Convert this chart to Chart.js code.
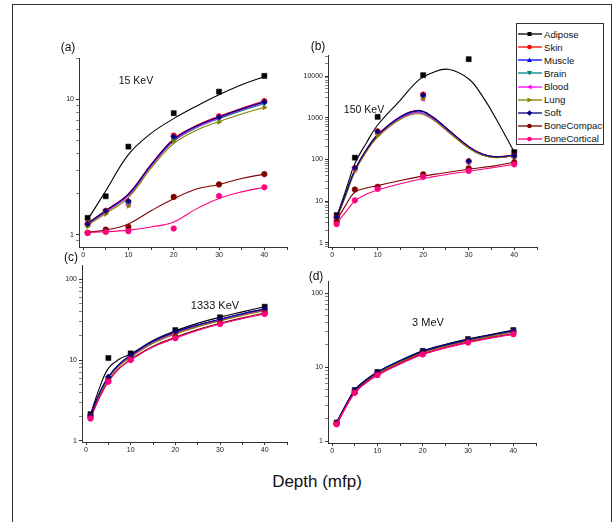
<!DOCTYPE html>
<html lang="en">
<head>
<meta charset="UTF-8">
<title>Depth (mfp) - four energies</title>
<script src="https://cdn.jsdelivr.net/npm/chart.js"></script>
<style>
  body { margin:0; width:612px; height:522px; overflow:hidden; background:#fff; position:relative;
         font-family:"Liberation Sans", Arial, sans-serif; }
  .frame { position:absolute; left:12px; top:4px; width:598px; height:540px; border:1.3px solid #333; }
  canvas { position:absolute; }
  .lbl { position:absolute; transform:translate(-50%,-50%); white-space:nowrap; color:#111; }
  .legend { position:absolute; left:516px; top:23px; width:86px; height:120px; border:1px solid #333;
            background:#fff; overflow:hidden; z-index:5; }
  .row { position:absolute; left:1px; height:13px; display:flex; align-items:center; font-size:9.6px; color:#111; white-space:nowrap; }
  .row svg { margin-right:2px; }
</style>
</head>
<body>
<div class="frame"></div>

<canvas id="chartA" width="260" height="211" style="left:39px;top:50px"></canvas>
<canvas id="chartB" width="261" height="214" style="left:288px;top:47px"></canvas>
<canvas id="chartC" width="257" height="199" style="left:42px;top:257px"></canvas>
<canvas id="chartD" width="260" height="184" style="left:288px;top:273px"></canvas>

<div class="lbl" style="left:68px;top:47px;font-size:12px">(a)</div>
<div class="lbl" style="left:318px;top:46px;font-size:12px">(b)</div>
<div class="lbl" style="left:71px;top:257px;font-size:12px">(c)</div>
<div class="lbl" style="left:316px;top:276px;font-size:12px">(d)</div>

<div class="lbl" style="left:136px;top:80px;font-size:10.5px">15 KeV</div>
<div class="lbl" style="left:364px;top:109px;font-size:10.5px">150 KeV</div>
<div class="lbl" style="left:215px;top:305px;font-size:11px">1333 KeV</div>
<div class="lbl" style="left:428px;top:322px;font-size:11px">3 MeV</div>

<div class="lbl" style="left:317px;top:482px;font-size:17px">Depth (mfp)</div>

<div class="legend" id="legend"></div>

<script>
const tissues = ['Adipose', 'Skin', 'Muscle', 'Brain', 'Blood', 'Lung', 'Soft', 'BoneCompact', 'BoneCortical'];
const depth = [1, 5, 10, 20, 30, 40];
const xTicks = [0, 5, 10, 15, 20, 25, 30, 35, 40, 45];

// (a) 15 KeV
const ptsA = [
  [1.33, 1.92, 4.47, 7.9, 11.4, 14.9],
  [1.2, 1.5, 1.75, 5.4, 7.5, 9.7],
  [1.18, 1.47, 1.72, 5.2, 7.4, 9.5],
  [1.17, 1.45, 1.7, 5.0, 7.2, 9.3],
  [1.18, 1.47, 1.65, 5.3, 7.4, 9.6],
  [1.15, 1.42, 1.63, 4.9, 6.8, 8.7],
  [1.2, 1.5, 1.77, 5.3, 7.4, 9.6],
  [1.03, 1.09, 1.14, 1.9, 2.35, 2.8],
  [1.03, 1.045, 1.06, 1.11, 1.93, 2.24]
];
const fitXA = [1, 5, 10, 15, 20, 25, 30, 35, 40];
const fitA = [
  [1.29, 2.1, 3.9, 5.6, 7.2, 8.9, 10.8, 12.8, 14.7],
  [1.22, 1.51, 2.0, 3.3, 5.1, 6.4, 7.5, 8.6, 9.75],
  [1.2, 1.49, 1.97, 3.25, 5.0, 6.3, 7.35, 8.45, 9.55],
  [1.19, 1.47, 1.94, 3.2, 4.9, 6.15, 7.2, 8.25, 9.3],
  [1.2, 1.48, 1.95, 3.22, 4.95, 6.25, 7.3, 8.4, 9.5],
  [1.17, 1.43, 1.88, 3.1, 4.7, 5.9, 6.85, 7.8, 8.7],
  [1.21, 1.5, 1.99, 3.28, 5.05, 6.35, 7.4, 8.5, 9.6],
  [1.04, 1.08, 1.2, 1.5, 1.84, 2.17, 2.35, 2.6, 2.8],
  [1.04, 1.05, 1.08, 1.14, 1.24, 1.55, 1.85, 2.07, 2.24]
];

// (b) 150 KeV
const ptsB = [
  [4.6, 110, 1050, 10500, 25400, 150],
  [4.0, 62, 470, 3600, 90, 120],
  [3.9, 60, 450, 3400, 88, 118],
  [3.8, 58, 420, 3000, 86, 115],
  [3.7, 55, 400, 2800, 85, 112],
  [3.6, 55, 380, 2900, 85, 112],
  [4.1, 63, 470, 3500, 92, 122],
  [3.2, 19, 22, 44, 61, 85],
  [2.8, 10.4, 19.5, 38, 53, 76]
];
const fitXB = [1, 3, 5, 7.5, 10, 15, 19, 22, 25.5, 30, 33, 36, 40];
const fitB = [
  [4.2, 18, 80, 245, 670, 2660, 8000, 12000, 14500, 8500, 3300, 950, 150],
  [4.0, 15, 56, 170, 390, 1060, 1500, 1070, 520, 205, 135, 116, 127],
  [3.95, 14.5, 55, 165, 380, 1030, 1450, 1040, 505, 200, 132, 114, 125],
  [3.9, 14, 53, 160, 365, 980, 1350, 980, 480, 192, 128, 112, 123],
  [3.85, 14, 52, 158, 360, 960, 1320, 960, 470, 190, 127, 111, 122],
  [3.8, 13.5, 50, 150, 345, 920, 1250, 920, 455, 185, 125, 110, 121],
  [4.0, 15, 56, 168, 385, 1050, 1480, 1060, 515, 203, 134, 115, 126],
  [3.4, 8, 16.5, 20.5, 23.5, 31, 38, 43, 49, 58, 64, 71, 85],
  [2.9, 5.5, 10, 14.5, 18.5, 26, 33, 38, 44, 52, 58, 65, 76]
];

// (c) 1333 KeV
const ptsC = [
  [2.14, 10.6, 12.1, 23.5, 33.8, 45.7],
  [2.05, 6.0, 11.0, 21.5, 31, 41.5],
  [2.08, 6.2, 11.4, 22.2, 32, 42.8],
  [2.05, 6.0, 11.1, 21.6, 31.2, 41.8],
  [2.04, 6.0, 11.0, 21.4, 31, 41.3],
  [2.02, 5.9, 10.8, 21.0, 30.5, 40.7],
  [2.08, 6.2, 11.5, 22.4, 32, 42.9],
  [1.93, 5.5, 10.2, 19.2, 28.5, 38.2],
  [1.89, 5.4, 10.0, 18.6, 27.9, 37.2]
];
const fitXC = [1, 3, 5, 7.5, 10, 15, 20, 25, 30, 35, 40];
const fitC = [
  [2.12, 4.5, 7.9, 10.3, 11.9, 17.5, 23, 28.5, 34, 39.5, 45.7],
  [2.05, 3.8, 6.0, 8.7, 11.0, 16.5, 21.5, 26.3, 31, 36.3, 41.5],
  [2.08, 3.9, 6.2, 8.95, 11.4, 17.0, 22.2, 27.1, 32, 37.4, 42.8],
  [2.05, 3.8, 6.0, 8.75, 11.1, 16.6, 21.6, 26.4, 31.2, 36.5, 41.8],
  [2.04, 3.8, 6.0, 8.7, 11.0, 16.4, 21.4, 26.2, 31, 36.1, 41.3],
  [2.02, 3.75, 5.9, 8.55, 10.8, 16.1, 21.0, 25.8, 30.5, 35.6, 40.7],
  [2.08, 3.9, 6.2, 9.0, 11.5, 17.2, 22.4, 27.3, 32, 37.5, 42.9],
  [1.93, 3.45, 5.5, 8.0, 10.2, 14.8, 19.2, 23.8, 28.5, 33.3, 38.2],
  [1.89, 3.4, 5.4, 7.9, 10.0, 14.5, 18.6, 23.2, 27.9, 32.5, 37.2]
];

// (d) 3 MeV  (lines go through the points)
const ptsD = [
  [1.78, 4.9, 8.6, 16.6, 24.0, 31.8],
  [1.74, 4.7, 8.3, 16.0, 23.0, 30.5],
  [1.76, 4.8, 8.5, 16.3, 23.5, 31.0],
  [1.75, 4.75, 8.4, 16.1, 23.2, 30.7],
  [1.74, 4.7, 8.3, 15.9, 23.0, 30.4],
  [1.73, 4.7, 8.2, 15.8, 22.8, 30.1],
  [1.77, 4.85, 8.55, 16.4, 23.7, 31.2],
  [1.70, 4.55, 7.9, 15.1, 21.9, 28.5],
  [1.69, 4.5, 7.8, 14.9, 21.6, 28.0]
];

// styles
const colors = ['#000000', '#ff0000', '#0000ff', '#008080', '#ff00ff', '#808000', '#000080', '#800000', '#ff0080'];
const pStyles = ['rect', 'circle', 'triangle', 'triangle', 'triangle', 'triangle', 'rectRot', 'circle', 'circle'];
const pRot = [0, 0, 0, 180, -90, 90, 0, 0, 0];

function logTicks(scale) {
  const out = [];
  const k0 = Math.floor(Math.log10(scale.min)), k1 = Math.ceil(Math.log10(scale.max));
  for (let k = k0; k <= k1; k++) {
    for (let m = 1; m <= 9; m++) {
      const v = m * Math.pow(10, k);
      if (v >= scale.min && v <= scale.max) out.push({ value: v, major: m === 1 });
    }
  }
  scale.ticks = out;
}

function decadeLabel(v) {
  const l = Math.log10(v);
  return Math.abs(l - Math.round(l)) < 1e-6 ? String(Math.round(v)) : '';
}

function makeChart(id, pts, fitX, fitY, yMin, yMax) {
  const datasets = [];
  tissues.forEach((name, i) => {
    if (fitY) {
      datasets.push({
        label: name + ' fit',
        data: fitX.map((x, j) => ({ x: x, y: fitY[i][j] })),
        showLine: true, pointRadius: 0, borderColor: colors[i], borderWidth: 1.1,
        tension: 0.4, order: 50 - i
      });
    }
    datasets.push({
      label: name,
      data: depth.map((x, j) => ({ x: x, y: pts[i][j] })),
      showLine: !fitY, tension: 0.25, borderWidth: 1.3,
      pointStyle: pStyles[i], rotation: pRot[i], pointRotation: pRot[i],
      pointRadius: pStyles[i] === 'rect' ? 3.6 : 2.8,
      pointBorderWidth: 0.5,
      backgroundColor: colors[i], borderColor: colors[i], pointBackgroundColor: colors[i],
      order: 20 - i
    });
  });

  return new Chart(document.getElementById(id), {
    type: 'scatter',
    data: { datasets: datasets },
    options: {
      responsive: false,
      animation: false,
      layout: { padding: { top: 8, right: 12, left: 0, bottom: 0 } },
      plugins: { legend: { display: false }, tooltip: { enabled: false } },
      scales: {
        x: {
          type: 'linear', min: -0.9, max: 45,
          afterBuildTicks: s => { s.ticks = xTicks.map(v => ({ value: v })); },
          afterFit: s => { s.height = 14; },
          ticks: {
            callback: v => (v % 10 === 0 && v <= 40) ? String(v) : '',
            font: { size: 7, family: 'Liberation Sans' }, color: '#222',
            padding: 1, maxRotation: 0, autoSkip: false
          },
          grid: { drawOnChartArea: false, drawTicks: true, tickLength: 3, color: '#333' },
          border: { display: true, color: '#333', width: 1 }
        },
        y: {
          type: 'logarithmic', min: yMin, max: yMax,
          afterBuildTicks: logTicks,
          afterFit: s => { s.width = 40; },
          ticks: {
            callback: decadeLabel,
            font: { size: 7, family: 'Liberation Sans' }, color: '#222',
            padding: 2, autoSkip: false
          },
          grid: {
            drawOnChartArea: false, drawTicks: true, tickLength: 3, color: '#333',
            tickWidth: c => (c.tick && c.tick.major) ? 1 : 0.6
          },
          border: { display: true, color: '#333', width: 1 }
        }
      }
    }
  });
}

makeChart('chartA', ptsA, fitXA, fitA, 0.81, 20.2);
makeChart('chartB', ptsB, fitXB, fitB, 0.79, 32000);
makeChart('chartC', ptsC, fitXC, fitC, 0.97, 150);
makeChart('chartD', ptsD, null, null, 0.94, 147);

// legend
function markerSvg(i) {
  const c = colors[i];
  let m;
  switch (i) {
    case 0: m = `<rect x="9.5" y="2" width="4" height="4" fill="${c}"/>`; break;
    case 2: m = `<polygon points="11.5,1.5 14,6 9,6" fill="${c}"/>`; break;
    case 3: m = `<polygon points="9,2 14,2 11.5,6.5" fill="${c}"/>`; break;
    case 4: m = `<polygon points="9,4 13.5,1.5 13.5,6.5" fill="${c}"/>`; break;
    case 5: m = `<polygon points="9.5,1.5 14,4 9.5,6.5" fill="${c}"/>`; break;
    case 6: m = `<polygon points="11.5,1.3 14.2,4 11.5,6.7 8.8,4" fill="${c}"/>`; break;
    default: m = `<circle cx="11.5" cy="4" r="2.3" fill="${c}"/>`;
  }
  return `<svg width="24" height="8" viewBox="0 0 24 8"><line x1="0" y1="4" x2="24" y2="4" stroke="${c}" stroke-width="1.3"/>${m}</svg>`;
}
const legend = document.getElementById('legend');
tissues.forEach((name, i) => {
  const row = document.createElement('div');
  row.className = 'row';
  row.style.top = (3.8 + i * 13.05) + 'px';
  row.innerHTML = markerSvg(i) + '<span>' + name + '</span>';
  legend.appendChild(row);
});
</script>
</body>
</html>
